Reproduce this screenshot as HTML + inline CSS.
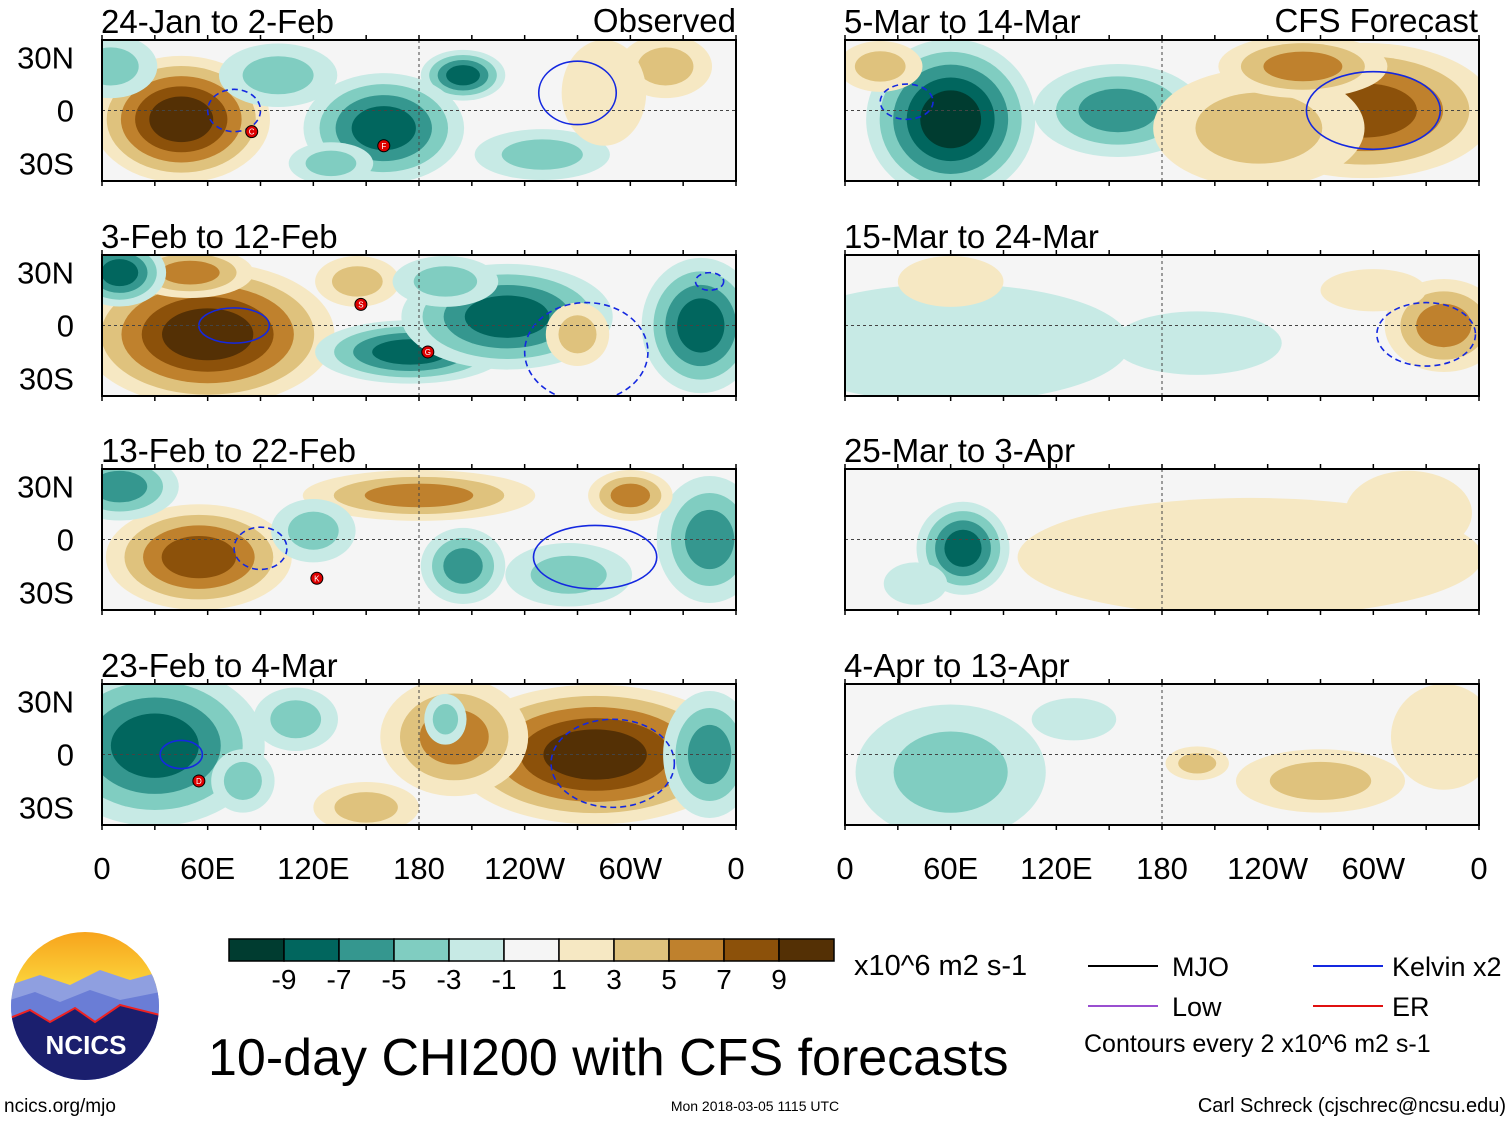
<!DOCTYPE html>
<html><head><meta charset="utf-8"><style>
body{margin:0;background:#fff;}
svg{display:block;font-family:"Liberation Sans",sans-serif;}
</style></head><body>
<svg id="s" width="1510" height="1121" viewBox="0 0 1510 1121">
<defs>
<linearGradient id="sky" x1="0" y1="0" x2="0" y2="1"><stop offset="0" stop-color="#f7a21b"/><stop offset="0.35" stop-color="#fbd23a"/><stop offset="0.5" stop-color="#e8e8f0"/></linearGradient>
<clipPath id="lc"><circle cx="85" cy="1006" r="74"/></clipPath>
</defs>
</svg>
<script>
// ---- data ----
const levelColors=["#003c30","#01665e","#35978f","#80cdc1","#c7eae5","#f5f5f5","#f6e8c3","#dfc27d","#bf812d","#8c510a","#543005"];
const levelTicks=["-9","-7","-5","-3","-1","1","3","5","7","9"];
const lonTicks=["0","60E","120E","180","120W","60W","0"];
const latTicks=["30N","0","30S"];
const latTickVals=[30,0,-30];
const titlesLeft=["24-Jan to 2-Feb","3-Feb to 12-Feb","13-Feb to 22-Feb","23-Feb to 4-Mar"];
const titlesRight=["5-Mar to 14-Mar","15-Mar to 24-Mar","25-Mar to 3-Apr","4-Apr to 13-Apr"];
// blobs: [lon, lat, rLon, rLat, peak]
const blobsL1=[[45,-5,42,30,9],[205,20,20,12,-8],[160,-10,38,26,-8],[100,20,28,15,-3],[320,25,22,15,3],[250,-25,32,12,-3],[285,10,20,25,2],[5,25,22,15,-3],[130,-30,20,10,-3]];
const blobsL2=[[60,-5,60,34,9],[50,30,30,12,5],[10,30,22,16,-8],[175,-15,45,15,-8],[230,5,50,25,-7],[340,0,28,32,-7],[145,25,20,12,3],[270,-5,15,15,3],[195,25,25,12,-3]];
const blobsL3=[[55,-10,44,25,8],[10,30,28,16,-6],[345,0,25,30,-6],[180,25,55,12,5],[205,-15,20,18,-5],[265,-20,30,15,-3],[300,25,20,12,5],[120,5,20,15,-3]];
const blobsL4=[[30,5,52,38,-8],[280,0,68,33,9],[200,10,35,28,5],[195,20,10,12,-3],[345,0,22,30,-5],[150,-30,25,12,3],[110,20,20,15,-3],[80,-15,15,15,-3]];
const blobsR1=[[60,-5,40,38,-9],[155,0,40,22,-5],[295,0,62,32,8],[235,-10,50,28,3],[260,25,40,15,6],[20,25,20,12,3]];
const blobsR2=[[60,-10,85,28,-2],[340,0,28,22,5],[60,25,25,12,2],[200,-10,40,15,-2],[300,20,25,10,2]];
const blobsR3=[[67,-5,22,22,-7],[230,-10,110,28,2],[320,15,30,20,2],[40,-25,15,10,-2]];
const blobsR4=[[60,-10,45,32,-3],[270,-15,40,15,3],[340,10,25,25,2],[200,-5,15,8,3],[130,20,20,10,-2]];
// blue contours: [panelIdx, lon, lat, rLon, rLat, dashed]
const contours=[[0,75,0,15,12,1],[0,270,10,22,18,0],[1,75,0,20,10,0],[1,275,-15,35,28,1],[1,345,25,8,5,1],[2,90,-5,15,12,1],[2,280,-10,35,18,0],[3,45,0,12,8,0],[3,290,-5,35,25,1],[4,35,5,15,10,1],[4,300,0,38,22,0],[5,330,-5,28,18,1]];
// storms: [panelIdx, lon, lat, letter]
const storms=[[0,85,-12,"C"],[0,160,-20,"F"],[1,147,12,"S"],[1,185,-15,"G"],[2,122,-22,"K"],[3,55,-15,"D"]];

// ---- layout ----
const panelX=[102,845], panelW=634, panelTop=[40,255,469,684], panelH=141;
const lonX=(p,lon)=>panelX[p<4?0:1]+lon/360*panelW;
const latY=(p,lat)=>panelTop[p%4]+70.5-lat/40*70.5;
const s=document.getElementById('s');
const NS="http://www.w3.org/2000/svg";
function mk(tag,attrs,parent){const e=document.createElementNS(NS,tag);for(const k in attrs)e.setAttribute(k,attrs[k]);(parent||s).appendChild(e);return e;}
function colorFor(k,sign){return levelColors[5+sign*k];}
const allBlobs=[blobsL1,blobsL2,blobsL3,blobsL4,blobsR1,blobsR2,blobsR3,blobsR4];
const allTitles=titlesLeft.concat(titlesRight);
for(let p=0;p<8;p++){
  const x0=panelX[p<4?0:1], y0=panelTop[p%4];
  const g=mk('g',{});
  
  
  const cid='c'+p;
  const cp=mk('clipPath',{id:cid},s.querySelector('defs'));
  mk('rect',{x:x0,y:y0,width:panelW,height:panelH},cp);
  mk('rect',{x:x0,y:y0,width:panelW,height:panelH,fill:levelColors[5]},g);
  const fg=mk('g',{'clip-path':'url(#'+cid+')'},g);
  allBlobs[p].forEach(b=>{
    const [lon,lat,rl,rt,v]=b; const sign=v<0?-1:1; const n=Math.max(1,Math.floor((Math.abs(v)+1)/2));
    for(let i=1;i<=n;i++){
      const f=1.2*(1-(i-1)/n*0.8);
      const e=mk('ellipse',{cx:lonX(p,lon),cy:latY(p,lat),rx:rl/360*panelW*f,ry:rt/40*70.5*f,fill:colorFor(i,sign)},fg);
      
      
    }
  });
  contours.filter(c=>c[0]===p).forEach(c=>{
    const e=mk('ellipse',{cx:lonX(p,c[1]),cy:latY(p,c[2]),rx:c[3]/360*panelW,ry:c[4]/40*70.5,fill:'none',stroke:'#1428e0','stroke-width':1.6,'stroke-dasharray':c[5]?'6,4':'none'},fg);
    
    
  });
  mk('line',{x1:x0,y1:latY(p,0),x2:x0+panelW,y2:latY(p,0),stroke:'#444','stroke-dasharray':'3,3','stroke-width':1},g);
  mk('line',{x1:lonX(p,180),y1:y0,x2:lonX(p,180),y2:y0+panelH,stroke:'#444','stroke-dasharray':'3,3','stroke-width':1},g);
  storms.filter(c=>c[0]===p).forEach(c=>{
    const sg=mk('g',{},g);
    
    
    mk('circle',{cx:lonX(p,c[1]),cy:latY(p,c[2]),r:6,fill:'#d00',stroke:'#000','stroke-width':1},sg);
    const t=mk('text',{x:lonX(p,c[1]),y:latY(p,c[2])+3,'font-size':8,fill:'#fff','text-anchor':'middle'},sg);t.textContent=c[3];
  });
  mk('rect',{x:x0,y:y0,width:panelW,height:panelH,fill:'none',stroke:'#000','stroke-width':2},g);
  for(let i=0;i<=12;i++){const tx=x0+i*panelW/12;mk('line',{x1:tx,y1:y0-5,x2:tx,y2:y0,stroke:'#000','stroke-width':1.5},g);mk('line',{x1:tx,y1:y0+panelH,x2:tx,y2:y0+panelH+5,stroke:'#000','stroke-width':1.5},g);}
  const tt=mk('text',{x:x0-1,y:y0-7,'font-size':33},g);tt.textContent=allTitles[p];
  
  
  if(p<4){latTickVals.forEach((lv,i)=>{const t=mk('text',{x:74,y:latY(p,lv)+11,'font-size':31,'text-anchor':'end'},g);t.textContent=latTicks[i];
    
    });}
}
const o1=mk('text',{x:736,y:32,'font-size':33,'text-anchor':'end'});o1.textContent="Observed";


const o2=mk('text',{x:1478,y:32,'font-size':33,'text-anchor':'end'});o2.textContent="CFS Forecast";


[0,4].forEach(p=>lonTicks.forEach((l,i)=>{const t=mk('text',{x:lonX(p,i*60),y:879,'font-size':31,'text-anchor':'middle'});t.textContent=l;
  
  }));
// colorbar
const cb=mk('g',{});


levelColors.forEach((c,i)=>mk('rect',{x:229+i*55,y:939,width:55,height:22,fill:c,stroke:'#000','stroke-width':1.5},cb));
levelTicks.forEach((l,i)=>{const t=mk('text',{x:284+i*55,y:989,'font-size':28,'text-anchor':'middle'},cb);t.textContent=l;});
const u=mk('text',{x:854,y:975,'font-size':29});u.textContent="x10^6 m2 s-1";


const ti=mk('text',{x:208,y:1075,'font-size':52});ti.textContent="10-day CHI200 with CFS forecasts";


// legend
const lg=mk('g',{});


[[1088,966,'#000','MJO',1172],[1088,1006,'#9a4fd0','Low',1172],[1313,966,'#1428e0','Kelvin x2',1392],[1313,1006,'#e01010','ER',1392]].forEach(d=>{
  mk('line',{x1:d[0],y1:d[1],x2:d[0]+70,y2:d[1],stroke:d[2],'stroke-width':2},lg);
  const t=mk('text',{x:d[4],y:d[1]+10,'font-size':27},lg);t.textContent=d[3];
});
const ce=mk('text',{x:1084,y:1052,'font-size':25},lg);ce.textContent="Contours every 2 x10^6 m2 s-1";
const f1=mk('text',{x:4,y:1112,'font-size':19});f1.textContent="ncics.org/mjo";


const f2=mk('text',{x:755,y:1111,'font-size':14,'text-anchor':'middle'});f2.textContent="Mon 2018-03-05 1115 UTC";


const f3=mk('text',{x:1506,y:1112,'font-size':20,'text-anchor':'end'});f3.textContent="Carl Schreck (cjschrec@ncsu.edu)";


// logo
const lo=mk('g',{'clip-path':'url(#lc)'});


mk('rect',{x:10,y:930,width:150,height:152,fill:'url(#sky)'},lo);
mk('path',{d:'M10 985 L40 975 L70 985 L100 970 L130 980 L160 972 L160 1082 L10 1082Z',fill:'#8f9fe0'},lo);
mk('path',{d:'M10 1000 L35 992 L60 1002 L90 990 L120 1000 L160 992 L160 1082 L10 1082Z',fill:'#6a7dd6'},lo);
mk('path',{d:'M10 1018 L30 1010 L50 1022 L75 1008 L95 1022 L120 1005 L160 1015 L160 1082 L10 1082Z',fill:'#1b1f6e',stroke:'#e22','stroke-width':2},lo);
const lt=mk('text',{x:86,y:1054,'font-size':26,'font-weight':'bold',fill:'#fff','text-anchor':'middle'},lo);lt.textContent="NCICS";
</script>
</body></html>
